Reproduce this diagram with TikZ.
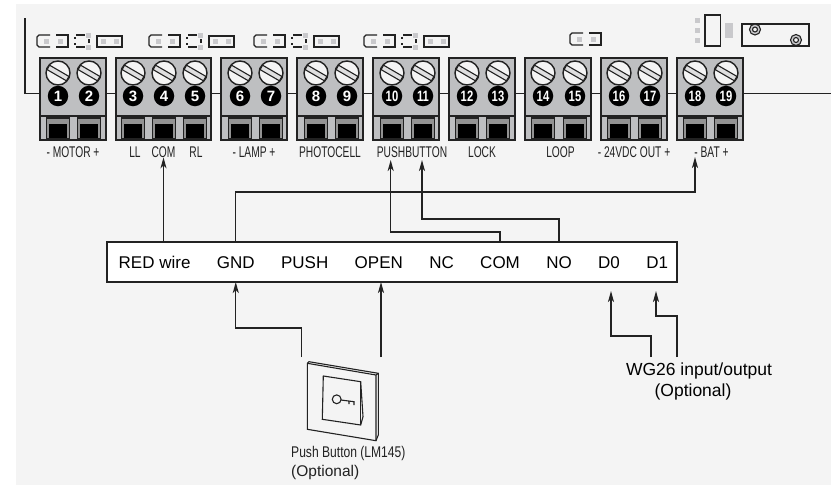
\documentclass[tikz,border=0pt]{standalone}
\usepackage{fontspec}
\setmainfont{Liberation Sans}
\usetikzlibrary{shapes.geometric, arrows.meta, calc, positioning}
\definecolor{panelgray}{HTML}{F4F4F4}
\definecolor{blockgray}{HTML}{BEBFC1}
\definecolor{linegray}{HTML}{222222}
\definecolor{padgray}{HTML}{C9C9CC}
\newcommand{\narrowtext}[1]{\scalebox{.66}[1]{#1}}
\tikzstyle{wire} = [line width=1.4pt, draw=linegray]
\tikzstyle{arrow} = [wire, -{Stealth[length=11pt, width=6pt, inset=3pt]}]
\tikzstyle{support} = [coordinate]
\tikzstyle{block} = [rectangle, line width=1.7pt, draw=linegray, fill=blockgray, minimum height=82pt, inner sep=0pt, outer sep=0pt]
\tikzstyle{double} = [block, minimum width=66pt]
\tikzstyle{triple} = [block, minimum width=95pt]
\tikzstyle{screw} = [circle, line width=1.4pt, draw=linegray, fill=panelgray, minimum size=24pt, inner sep=0pt]
\tikzstyle{numdot} = [circle, fill=black, text=white, font=\fontsize{15}{15}\selectfont\bfseries, minimum size=20.5pt, inner sep=0pt]
\tikzstyle{window} = [rectangle, line width=1.4pt, draw=linegray, fill=gray!85, minimum width=23pt, minimum height=21pt, inner sep=0pt]
\tikzstyle{hole} = [rectangle, fill=black, minimum width=18.5pt, minimum height=14pt, inner sep=0pt]
\tikzstyle{pad} = [rectangle, fill=padgray, minimum size=5pt, inner sep=0pt]
\tikzstyle{term} = [font=\fontsize{15.5}{15.5}\selectfont, text=linegray, inner sep=0pt, text height=11pt, text depth=0pt]
\tikzstyle{pin} = [font=\fontsize{17}{17}\selectfont, text=black, inner sep=0pt, text height=12.5pt, text depth=0pt]
\tikzstyle{note} = [font=\fontsize{17.5}{17.5}\selectfont, text=black, inner sep=0pt, text height=12.5pt, text depth=0pt]
\tikzstyle{thinpart} = [line width=1.1pt, draw=linegray]
\newcommand{\termpole}[2]{
	\node (Screw#2) [screw] at (#1,73) {};
	\draw [thinpart, fill=padgray!60] (#1-10.9,69.6) -- (#1+8.4,80.8) -- (#1+10.9,76.4) -- (#1-8.4,65.2) -- cycle;
	\node (Number#2) [numdot] at (#1,96) {\ifnum#2>9 \scalebox{.75}[1]{#2}\else #2\fi};
	\node (Window#2) [window] at (#1,128.5) {};
	\node (Hole#2) [hole] at (#1,131) {};
}
\newcommand{\blockfloor}[1]{
	\draw [wire] ($(#1.south west)+(0,-24)$) -- ($(#1.south east)+(0,-24)$);
}
\newcommand{\jumper}[2]{
	\draw [thinpart] (#1+13,#2) -- (#1+2,#2) -- (#1,#2+2) -- (#1,#2+10) -- (#1+2,#2+12) -- (#1+13,#2+12);
	\draw [thinpart] (#1+19,#2) -- (#1+31,#2) -- (#1+31,#2+12) -- (#1+19,#2+12);
	\node (PadA#1) [pad] at (#1+9,#2+6) {};
	\node (PadB#1) [pad] at (#1+23.5,#2+6) {};
}
\newcommand{\jumperset}[1]{
	\jumper{#1}{35}
	\draw [thinpart] (#1+39,35) -- (#1+48,35) (#1+39,47) -- (#1+48,47) (#1+38,37) -- (#1+38,39) (#1+38,43) -- (#1+38,45) (#1+52,39) -- (#1+52,43);
	\node (PadC#1) [pad] at (#1+51,35) {};
	\node (PadD#1) [pad] at (#1+51,47) {};
	\draw [thinpart] (#1+60,36) rectangle (#1+85,47);
	\node (PadE#1) [pad] at (#1+66,41.5) {};
	\node (PadF#1) [pad] at (#1+79,41.5) {};
}
\begin{document}
\begin{tikzpicture}[x=1pt, y=-1pt, node distance = 10pt]
	\useasboundingbox (0,0) rectangle (831,485);
	\fill [panelgray] (16,4) rectangle (831,485);
	% wire behind the terminals
	\node (TopWire) [support] at (25,18) {};
	\node (WireEnd) [support] at (831,93.5) {};
	\draw [wire] (TopWire) |- (WireEnd);
	% terminal blocks
	\node (Block1) [double] at (73,99) {};
	\node (Block2) [triple, right = of Block1] {};
	\node (Block3) [double, right = of Block2] {};
	\node (Block4) [double, right = of Block3] {};
	\node (Block5) [double, right = of Block4] {};
	\node (Block6) [double, right = of Block5] {};
	\node (Block7) [double, right = of Block6] {};
	\node (Block8) [double, right = of Block7] {};
	\node (Block9) [double, right = of Block8] {};
	\blockfloor{Block1} \blockfloor{Block2} \blockfloor{Block3}
	\blockfloor{Block4} \blockfloor{Block5} \blockfloor{Block6}
	\blockfloor{Block7} \blockfloor{Block8} \blockfloor{Block9}
	\termpole{58}{1} \termpole{89}{2}
	\termpole{133}{3} \termpole{164}{4} \termpole{195}{5}
	\termpole{240}{6} \termpole{271}{7}
	\termpole{316}{8} \termpole{347}{9}
	\termpole{392}{10} \termpole{423}{11}
	\termpole{467}{12} \termpole{498}{13}
	\termpole{543}{14} \termpole{575}{15}
	\termpole{619}{16} \termpole{650}{17}
	\termpole{695}{18} \termpole{726}{19}
	% terminal names
	\node (TermMotor) [term, below = 6pt of Block1] {\narrowtext{- MOTOR +}};
	\node (TermLL) [term, below = 6pt of Block2, xshift=-28.5pt] {\narrowtext{LL}};
	\node (TermCOM) [term, below = 6pt of Block2] {\narrowtext{COM}};
	\node (TermRL) [term, below = 6pt of Block2, xshift=32.5pt] {\narrowtext{RL}};
	\node (TermLamp) [term, below = 6pt of Block3] {\narrowtext{- LAMP +}};
	\node (TermPhoto) [term, below = 6pt of Block4] {\narrowtext{PHOTOCELL}};
	\node (TermPush) [term, below = 6pt of Block5, xshift=6pt] {\narrowtext{PUSHBUTTON}};
	\node (TermLock) [term, below = 6pt of Block6] {\narrowtext{LOCK}};
	\node (TermLoop) [term, below = 6pt of Block7, xshift=2.5pt] {\narrowtext{LOOP}};
	\node (TermVdc) [term, below = 6pt of Block8] {\narrowtext{- 24VDC OUT +}};
	\node (TermBat) [term, below = 6pt of Block9, xshift=1.5pt] {\narrowtext{- BAT +}};
	% parts along the top edge
	\jumperset{37} \jumperset{149} \jumperset{254} \jumperset{364}
	\jumper{570}{33}
	\node (RelayPadA) [pad] at (697,20) {};
	\node (RelayPadB) [pad] at (697,30) {};
	\node (RelayPadC) [pad] at (697,40) {};
	\draw [wire] (705,15) rectangle (720.5,46);
	\fill [padgray] (725,23) rectangle (733,38);
	\draw [wire] (742,24) rectangle (809,46);
	\draw [thinpart, fill=padgray] (755,29.5) circle (5.5);
	\draw [thinpart, fill=panelgray] (755,29.5) circle (2.5);
	\draw [thinpart, fill=padgray] (796,40) circle (5.5);
	\draw [thinpart, fill=panelgray] (796,40) circle (2.5);
	% strip of inputs
	\node (PinBox) [rectangle, line width=1.4pt, draw=linegray, fill=white, minimum width=570pt, minimum height=40pt, inner sep=0pt, outer sep=0pt] at (392,262) {};
	\node (PinRed) [pin, anchor=west] at (118.5,262) {RED wire};
	\node (PinGND) [pin, right = 26pt of PinRed] {GND};
	\node (PinPush) [pin, right = 26pt of PinGND] {PUSH};
	\node (PinOpen) [pin, right = 26pt of PinPush] {OPEN};
	\node (PinNC) [pin, right = 26pt of PinOpen] {NC};
	\node (PinCOM) [pin, right = 26pt of PinNC] {COM};
	\node (PinNO) [pin, right = 26pt of PinCOM] {NO};
	\node (PinD0) [pin, right = 26pt of PinNO] {D0};
	\node (PinD1) [pin, right = 26pt of PinD0] {D1};
	% upper wires
	\node (TipPushA) [support] at (390.7,160) {};
	\node (TipPushB) [support] at (422,160) {};
	\node (TipBat) [support] at (695,157) {};
	\draw [arrow] (TermCOM |- PinBox.north) -- (TermCOM.south);
	\draw [arrow] (PinGND |- PinBox.north) -- +(0,-50) -| (TipBat);
	\draw [arrow] (PinCOM |- PinBox.north) -- +(0,-10) -| (TipPushA);
	\draw [arrow] (PinNO |- PinBox.north) -- +(0,-23) -| (TipPushB);
	% lower wires
	\node (SwitchLeft) [support] at (301.5,357) {};
	\node (SwitchRight) [support] at (381,357) {};
	\node (WgLeft) [support] at (651,357) {};
	\node (WgRight) [support] at (677,357) {};
	\node (TipD0) [support] at (611,291) {};
	\node (TipD1) [support] at (656,291) {};
	\draw [arrow] (SwitchLeft) -- +(0,-29) -| (PinGND |- PinBox.south);
	\draw [arrow] (SwitchRight) -- (SwitchRight |- PinBox.south);
	\draw [arrow] (WgLeft) -- +(0,-21) -| (TipD0);
	\draw [arrow] (WgRight) -- +(0,-41) -| (TipD1);
	% push button
	\draw [thinpart, fill=panelgray] (307.3,363.3) -- (309,361.7) -- (378.3,373.3) -- (378.3,435) -- (376,440.7) -- (307.3,429.3) -- cycle;
	\draw [thinpart] (307.3,363.3) -- (376,375) -- (378.3,373.3) (376,375) -- (376,440.7);
	\draw [thinpart] (323.3,376) -- (360.7,381.7) -- (363,416.7) -- (360.7,425) -- (322.3,419.3) -- cycle;
	\draw [thinpart] (360.7,381.7) -- (360.7,425);
	\draw [thinpart] (336.7,399.3) circle (4.4);
	\draw [thinpart] (341,400) -- (354,401.7) -- (354,405) (349,401) -- (349,404);
	\node (SwitchName) [font=\fontsize{15.5}{15.5}\selectfont, text=linegray, inner sep=0pt, anchor=west] at (291,453) {\scalebox{.78}[1]{Push Button (LM145)}};
	\node (SwitchNote) [font=\fontsize{15.5}{15.5}\selectfont, text=linegray, inner sep=0pt, anchor=west] at (291,472) {(Optional)};
	\node (WgName) [note] at (699,369) {WG26 input/output};
	\node (WgNote) [note] at (693,390) {(Optional)};
\end{tikzpicture}
\end{document}
